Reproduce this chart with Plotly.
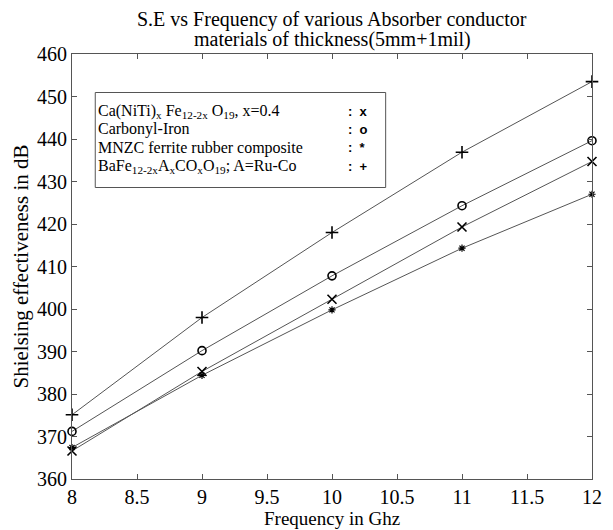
import plotly.graph_objects as go

# ---- data ----
freq = [8, 9, 10, 11, 12]
ca_niti = [366.6, 385.3, 402.3, 419.3, 434.7]
carbonyl_iron = [371.2, 390.2, 407.8, 424.3, 439.6]
mnzc = [367.4, 384.4, 399.8, 414.3, 427.0]
bafe = [375.1, 398.0, 418.0, 436.9, 453.5]

x_ticks = [8, 8.5, 9, 9.5, 10, 10.5, 11, 11.5, 12]
y_ticks = [360, 370, 380, 390, 400, 410, 420, 430, 440, 450, 460]

legend_labels = [
    "Ca(NiTi)<sub>x</sub> Fe<sub>12-2x</sub> O<sub>19</sub>, x=0.4",
    "Carbonyl-Iron",
    "MNZC ferrite rubber composite",
    "BaFe<sub>12-2x</sub>A<sub>x</sub>CO<sub>x</sub>O<sub>19</sub>; A=Ru-Co",
]
legend_marks = [":  x", ":  o", ":  *", ":  +"]

title_lines = ["S.E vs Frequency of various Absorber conductor",
               "materials of thickness(5mm+1mil)"]
x_title = "Frequency in Ghz"
y_title = "Shielsing effectiveness in dB"

SERIF = "Liberation Serif, Times New Roman, serif"
# the page body has an 8px margin: lay out in screenshot pixels, then shift
OFF = 8
W, H = 613 - OFF, 530 - OFF
PX0, PX1, PY0, PY1 = 72, 602, 54, 479          # plot box in screenshot pixels
L, R, T, B = PX0 - OFF, W - (PX1 - OFF), PY0 - OFF, H - (PY1 - OFF)
PW, PH = W - L - R, H - T - B

def px_x(p):
    return (p - PX0) / PW

def px_y(p):
    return (PY1 - p) / PH

fig = go.Figure()
series = [
    (ca_niti, "x-thin-open", 9, 1.6),
    (carbonyl_iron, "circle-open", 8, 1.6),
    (mnzc, "asterisk-open", 6, 1.2),
    (bafe, "cross-thin-open", 9, 1.6),
]
for vals, sym, sz, lw in series:
    fig.add_trace(go.Scatter(
        x=freq, y=vals, mode="lines+markers",
        line=dict(color="#555555", width=1),
        marker=dict(symbol=sym, size=sz, color="black",
                    line=dict(color="black", width=lw)),
        cliponaxis=False, showlegend=False,
    ))

axis_common = dict(
    showgrid=False, zeroline=False, showline=True, linecolor="#555555",
    linewidth=1, mirror="ticks", ticks="inside", ticklen=5,
    tickcolor="#555555", tickfont=dict(family=SERIF, size=20, color="black"),
)
fig.update_xaxes(range=[8, 12], tickvals=x_ticks,
                 ticktext=[f"{v:g}" for v in x_ticks], **axis_common)
fig.update_yaxes(range=[360, 460], tickvals=y_ticks, **axis_common)

# axis titles
fig.add_annotation(xref="paper", yref="paper", x=0.5, y=px_y(518.5),
                   xanchor="center", yanchor="middle", showarrow=False, borderpad=0,
                   text=x_title, font=dict(family=SERIF, size=19, color="black"))
fig.add_annotation(xref="paper", yref="paper", x=px_x(20), y=0.5,
                   xanchor="center", yanchor="middle", showarrow=False, textangle=-90,
                   text=y_title, font=dict(family=SERIF, size=21, color="black"))

# title lines
for txt, yy in zip(title_lines, [20, 40]):
    fig.add_annotation(xref="paper", yref="paper", x=0.5, y=px_y(yy),
                       xanchor="center", yanchor="middle", showarrow=False, borderpad=0,
                       text=txt, font=dict(family=SERIF, size=20, color="black"))

# legend box
fig.add_shape(type="rect", xref="paper", yref="paper",
              x0=px_x(95.7), x1=px_x(391.7), y0=px_y(187.5), y1=px_y(92.5),
              line=dict(color="#555555", width=1), fillcolor="white", layer="below")
line_ys = [111.7, 129.5, 147.7, 166.0]
for lab, mk, yy in zip(legend_labels, legend_marks, line_ys):
    fig.add_annotation(xref="paper", yref="paper", x=px_x(97.5), y=px_y(yy),
                       xanchor="left", yanchor="middle", showarrow=False, borderpad=0,
                       text=lab, font=dict(family=SERIF, size=16, color="black"))
    fig.add_annotation(xref="paper", yref="paper", x=px_x(352), y=px_y(yy),
                       xanchor="left", yanchor="middle", showarrow=False, borderpad=0,
                       text="<b>" + mk + "</b>",
                       font=dict(family="Liberation Sans, Arial, sans-serif", size=13, color="black"))

fig.update_layout(
    width=W, height=H,
    margin=dict(l=L, r=R, t=T, b=B),
    paper_bgcolor="white", plot_bgcolor="white",
)

fig.write_html("out.html")
